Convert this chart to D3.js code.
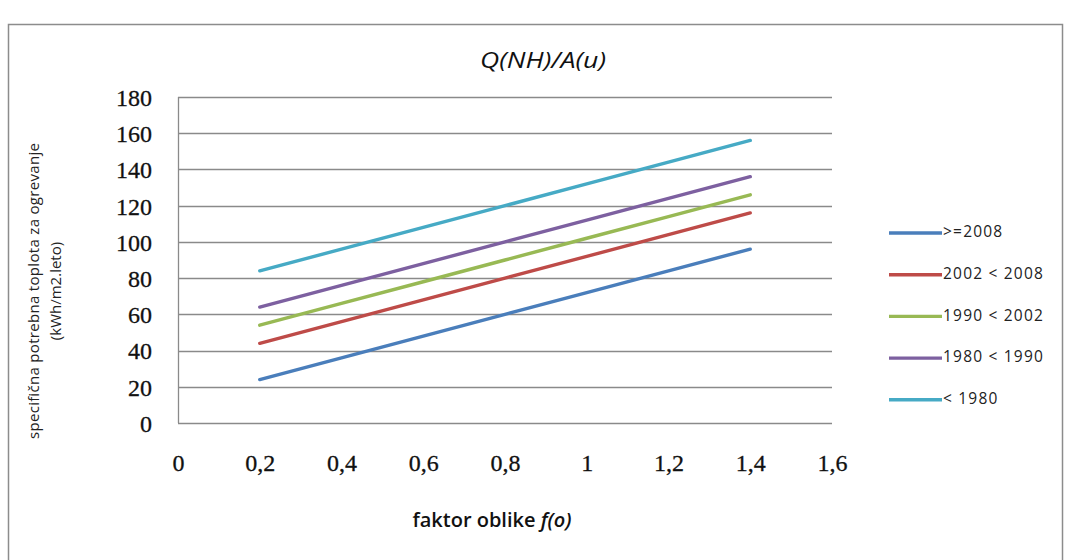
<!DOCTYPE html>
<html>
<head>
<meta charset="utf-8">
<script src="https://cdn.jsdelivr.net/npm/d3@7"></script>
<style>
  html, body { margin: 0; padding: 0; background: #fff; }
  svg { display: block; }
</style>
</head>
<body>
<svg id="chart" width="1070" height="560"></svg>
<script>
// Shape factor f(o) at which each curve is evaluated
const shapeFactor = [0.2, 0.4, 0.6, 0.8, 1.0, 1.2, 1.4];

// Specific heating demand Q(NH)/A(u), kWh/m2 per year, by construction period
const seriesNames = [">=2008", "2002 < 2008", "1990 < 2002", "1980 < 1990", "< 1980"];
const demand2008 = [24, 36, 48, 60, 72, 84, 96];
const demand2002 = [44, 56, 68, 80, 92, 104, 116];
const demand1990 = [54, 66, 78, 90, 102, 114, 126];
const demand1980 = [64, 76, 88, 100, 112, 124, 136];
const demandOld  = [84, 96, 108, 120, 132, 144, 156];
const seriesValues = [demand2008, demand2002, demand1990, demand1980, demandOld];
const seriesColors = ["#4a7ebb", "#be4b48", "#98b954", "#7d60a0", "#46aac5"];

// Axis ticks
const xTicks = [0, 0.2, 0.4, 0.6, 0.8, 1.0, 1.2, 1.4, 1.6];
const yTicks = [0, 20, 40, 60, 80, 100, 120, 140, 160, 180];

const SANS = "'Open Sans', 'Liberation Sans', sans-serif";
const SERIF = "'Liberation Serif', 'DejaVu Serif', serif";

const svg = d3.select("#chart");

// Outer chart frame
svg.append("rect")
  .attr("x", 8.5).attr("y", 24.5)
  .attr("width", 1054).attr("height", 560)
  .attr("fill", "#fff")
  .attr("stroke", "#8c8c8c")
  .attr("stroke-width", 1.5);

const plot = { left: 178, right: 832, top: 97, bottom: 423 };

const x = d3.scaleLinear().domain([0, 1.6]).range([plot.left, plot.right]);
const y = d3.scaleLinear().domain([0, 180]).range([plot.bottom, plot.top]);

// Horizontal gridlines
svg.append("g")
  .selectAll("line")
  .data(yTicks)
  .join("line")
  .attr("x1", plot.left).attr("x2", plot.right)
  .attr("y1", d => Math.round(y(d)) + 0.5)
  .attr("y2", d => Math.round(y(d)) + 0.5)
  .attr("stroke", "#8a8a8a")
  .attr("stroke-width", 1.3);

// Left axis line
svg.append("line")
  .attr("x1", plot.left + 0.5).attr("x2", plot.left + 0.5)
  .attr("y1", plot.top).attr("y2", plot.bottom)
  .attr("stroke", "#8a8a8a")
  .attr("stroke-width", 1.3);

// Y tick labels
const yAxis = d3.axisLeft(y).tickValues(yTicks).tickSize(0).tickPadding(0);
const yg = svg.append("g")
  .attr("transform", `translate(${plot.left - 26},0)`)
  .call(yAxis);
yg.select(".domain").remove();
yg.selectAll("text")
  .attr("font-family", SERIF)
  .attr("font-size", 24)
  .attr("fill", "#111")
  .attr("stroke", "#111")
  .attr("stroke-width", 0.3)
  .attr("dy", "0.35em");

// X tick labels
const fmtComma = d => String(d).replace(".", ",");
const xAxis = d3.axisBottom(x).tickValues(xTicks).tickSize(0).tickPadding(0).tickFormat(fmtComma);
const xg = svg.append("g")
  .attr("transform", `translate(0,${plot.bottom + 42})`)
  .call(xAxis);
xg.select(".domain").remove();
xg.selectAll("text")
  .attr("font-family", SERIF)
  .attr("font-size", 24)
  .attr("fill", "#111")
  .attr("stroke", "#111")
  .attr("stroke-width", 0.3)
  .attr("dy", "0")
  .attr("dominant-baseline", "middle");

// Series lines
const line = d3.line()
  .x((d, i) => x(shapeFactor[i]))
  .y(d => y(d));

svg.append("g")
  .selectAll("path")
  .data(seriesValues)
  .join("path")
  .attr("d", d => line(d))
  .attr("fill", "none")
  .attr("stroke", (d, i) => seriesColors[i])
  .attr("stroke-width", 3.4)
  .attr("stroke-linecap", "round")
  .attr("stroke-linejoin", "round");

// Title
svg.append("text")
  .attr("x", 543).attr("y", 62)
  .attr("text-anchor", "middle")
  .attr("dominant-baseline", "middle")
  .attr("font-family", SANS)
  .attr("font-style", "italic")
  .attr("font-weight", 500)
  .attr("font-size", 22)
  .attr("textLength", 126)
  .attr("lengthAdjust", "spacingAndGlyphs")
  .attr("fill", "#111")
  .text("Q(NH)/A(u)");

// X axis title
const xTitle = svg.append("text")
  .attr("x", 492).attr("y", 522)
  .attr("text-anchor", "middle")
  .attr("dominant-baseline", "middle")
  .attr("font-family", SANS)
  .attr("font-weight", 600)
  .attr("font-size", 20)
  .attr("fill", "#111");
xTitle.append("tspan").text("faktor oblike ");
xTitle.append("tspan").attr("font-style", "italic").text("f(o)");

// Y axis title (two rotated lines)
const yTitle = svg.append("g")
  .attr("transform", "translate(0,291) rotate(-90)");
yTitle.append("text")
  .attr("x", 0).attr("y", 35)
  .attr("text-anchor", "middle")
  .attr("dominant-baseline", "middle")
  .attr("font-family", SANS)
  .attr("font-weight", 500)
  .attr("font-size", 15)
  .attr("textLength", 296)
  .attr("lengthAdjust", "spacing")
  .attr("fill", "#222")
  .text("specifična potrebna toplota za ogrevanje");
yTitle.append("text")
  .attr("x", 0).attr("y", 57)
  .attr("text-anchor", "middle")
  .attr("dominant-baseline", "middle")
  .attr("font-family", SANS)
  .attr("font-weight", 500)
  .attr("font-size", 15)
  .attr("fill", "#222")
  .text("(kWh/m2.leto)");

// Legend
const legend = svg.append("g")
  .selectAll("g")
  .data(seriesNames)
  .join("g")
  .attr("transform", (d, i) => `translate(889,${233 + i * 41.7})`);
legend.append("line")
  .attr("x1", 0).attr("x2", 53)
  .attr("stroke", (d, i) => seriesColors[i])
  .attr("stroke-width", 3.4);
legend.append("text")
  .attr("x", 54)
  .attr("dominant-baseline", "middle")
  .attr("font-family", SANS)
  .attr("font-size", 15.5)
  .attr("letter-spacing", 1.2)
  .attr("fill", "#222")
  .text(d => d);
</script>
</body>
</html>
